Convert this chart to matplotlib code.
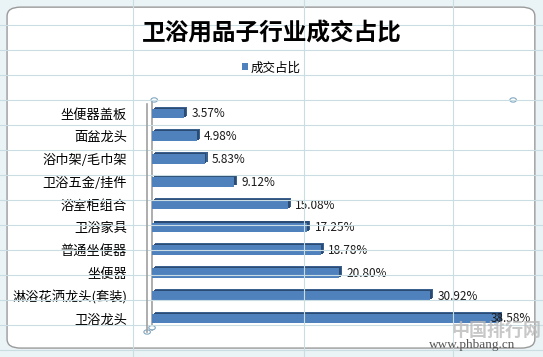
import matplotlib
matplotlib.use("Agg")
import matplotlib.pyplot as plt
from matplotlib.patches import FancyBboxPatch, Circle
from matplotlib.lines import Line2D

plt.rcParams['font.family'] = ['Noto Sans CJK SC', 'DejaVu Sans']

# data
categories = ['坐便器盖板', '面盆龙头', '浴巾架/毛巾架', '卫浴五金/挂件', '浴室柜组合',
              '卫浴家具', '普通坐便器', '坐便器', '淋浴花洒龙头(套装)', '卫浴龙头']
values = [3.57, 4.98, 5.83, 9.12, 15.08, 17.25, 18.78, 20.80, 30.92, 38.58]
title = '卫浴用品子行业成交占比'
series_name = '成交占比'

front_color = '#4F81BD'
top_color = '#3A6190'
side_color = '#2B4B73'

fig = plt.figure(figsize=(5.43, 3.57), dpi=100)
fig.patch.set_facecolor('#EAF4F6')

# spreadsheet grid behind the chart
for gx in [0.245, 0.56, 0.835]:
    fig.add_artist(Line2D([gx, gx], [0, 1], color='#C9DDE3', lw=0.8))
for gy in [0.93, 0.86, 0.79, 0.72, 0.65, 0.58, 0.51, 0.44, 0.37, 0.30, 0.23, 0.16, 0.09, 0.02]:
    fig.add_artist(Line2D([0, 1], [gy, gy], color='#C9DDE3', lw=0.8))

# chart area
fig.add_artist(FancyBboxPatch((0.013, 0.025), 0.972, 0.955,
                              boxstyle='round,pad=0,rounding_size=0.025',
                              transform=fig.transFigure, facecolor='white',
                              edgecolor='#9A9A9A', lw=1.0, zorder=0))

fig.text(0.5, 0.905, title, ha='center', va='center', fontsize=17,
         fontweight='bold', color='black')

ax = fig.add_axes([0.28, 0.076, 0.663, 0.638])
ax.set_facecolor('none')

pos = list(range(len(categories)))
h = 0.42
# 3D depth: top face and side, then front
ax.barh([p - 0.09 for p in pos], values, left=0.35, height=h, color=top_color, zorder=2)
ax.barh([p - 0.05 for p in pos], values, left=0.2, height=h, color=side_color, zorder=2)
bars = ax.barh(pos, values, height=h, color=front_color, zorder=3, label=series_name)

for p, v in zip(pos, values):
    ax.text(min(v + 0.8, 37.6), p + 0.02, f'{v:.2f}%', va='center', ha='left',
            fontsize=8.5, color='#1A1A1A', zorder=4)

ax.set_xlim(0, 40)
ax.set_ylim(-0.5, len(categories) - 0.5)
ax.invert_yaxis()
ax.set_yticks(pos)
ax.set_yticklabels(categories, fontsize=9.5)
ax.tick_params(axis='y', length=0, pad=18)
ax.set_xticks([])
for s in ['top', 'right', 'bottom']:
    ax.spines[s].set_visible(False)
ax.spines['left'].set_color('#A0A0A0')
ax.spines['left'].set_linewidth(1.2)
# back wall edge of the 3D axis
fig.add_artist(Line2D([0.271, 0.271], [0.07, 0.71], color='#A0A0A0', lw=1.2))

leg = fig.legend(handles=[bars], labels=[series_name], loc='center',
                 bbox_to_anchor=(0.5, 0.81), frameon=False, fontsize=9,
                 handlelength=0.5, handleheight=0.5, handletextpad=0.2)

# selection handles
for (hx, hy) in [(0.284, 0.72), (0.945, 0.72), (0.271, 0.07), (0.28, 0.082)]:
    fig.add_artist(Circle((hx, hy), 0.006, transform=fig.transFigure,
                          facecolor='white', edgecolor='#7FA7C0', lw=0.8))

# watermark
fig.text(0.915, 0.075, '中国排行网', ha='center', va='center', fontsize=13,
         color='#BBBBBB', alpha=0.8, fontweight='bold')
fig.text(0.87, 0.033, 'www.phbang.cn', ha='center', va='center', fontsize=9.5,
         color='#555555', family=['Liberation Serif', 'DejaVu Serif'])

fig.savefig('out.png', dpi=100)
